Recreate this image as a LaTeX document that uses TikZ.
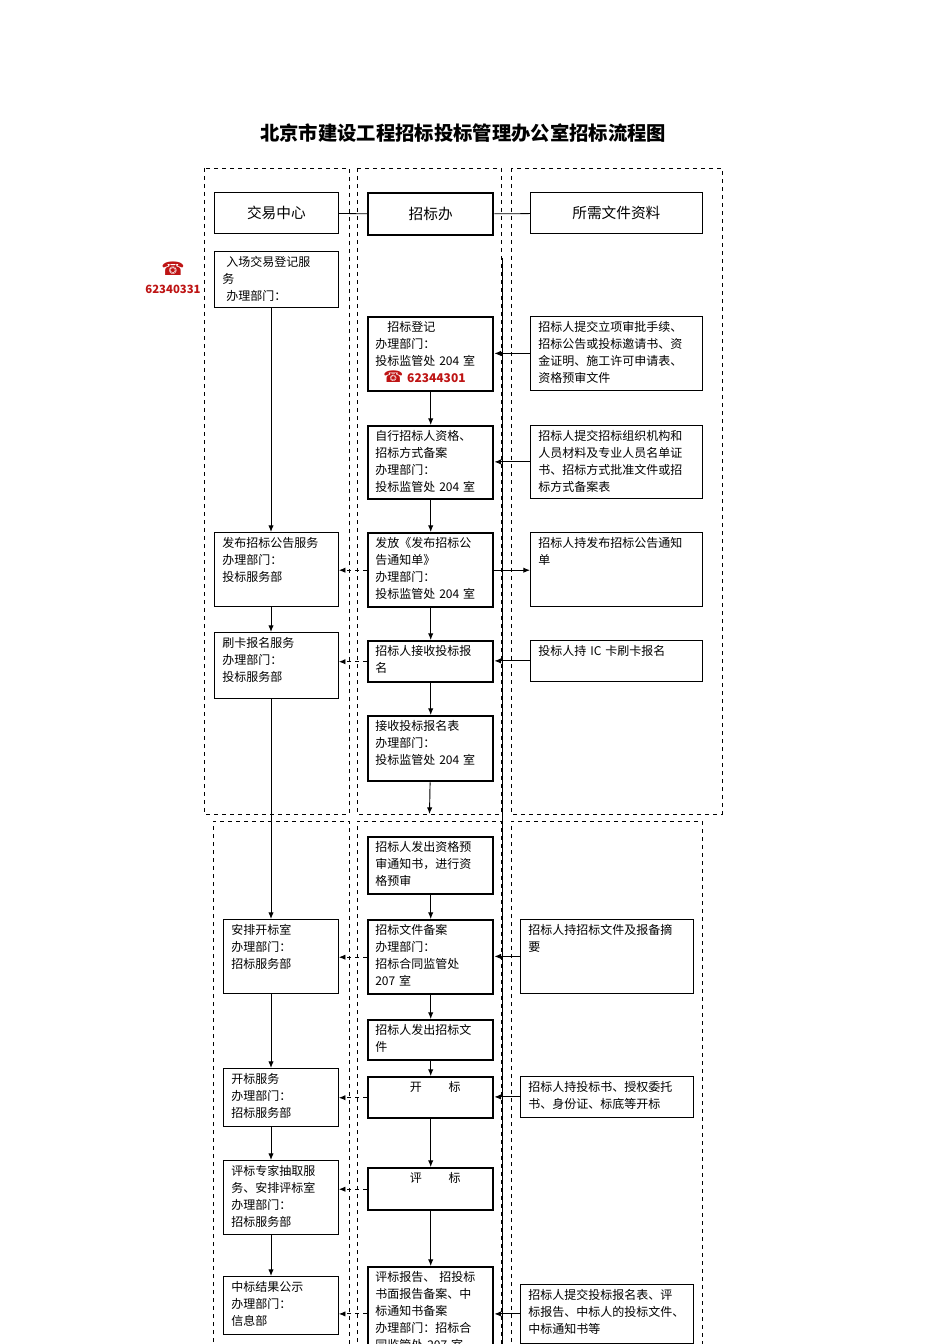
\documentclass[tikz,border=0pt]{standalone}
\usepackage{fontspec}
\setmainfont{Noto Sans CJK SC}
\newfontfamily\symf{DejaVu Sans}
\usetikzlibrary{arrows.meta}
\definecolor{telred}{RGB}{190,20,20}
\tikzset{
 x=0.75pt,y=-0.75pt,
 box/.style={draw,line width=0.6pt,inner sep=0pt},
 tbox/.style={draw,line width=1.8pt,inner sep=0pt},
 txt/.style={inner sep=0pt,align=left,font=\fontsize{9}{12.75}\selectfont},
 lane/.style={draw,dashed,line width=0.6pt},
 arr/.style={-{Latex[length=5pt,width=4pt]},line width=0.7pt},
 darr/.style={-{Latex[length=5pt,width=4pt]},line width=0.7pt,dashed},
}
\newcommand\bx[7]{%
 \node[#6,anchor=north west,minimum width={(#4-#2)*0.75pt},minimum height={(#5-#3)*0.75pt}] (#1) at (#2,#3) {};
 \node[txt,anchor=north west,text width={(#4-#2-12)*0.75pt}] (#1t) at (#2+8,#3+5) {#7};}
\begin{document}
\begin{tikzpicture}
\useasboundingbox[fill=white] (0,0) rectangle (950,1344);
\begin{scope}
\clip (0,0) rectangle (950,1344);
% lanes
\draw[lane] (204,168) rectangle (349,814);
\draw[lane] (357,168) rectangle (501,814);
\draw[lane] (511,168) rectangle (722,814);
\draw[lane] (213,1350) -- (213,821) -- (349,821) -- (349,1350);
\draw[lane] (357,1350) -- (357,821) -- (501,821) -- (501,1350);
\draw[lane] (511,1350) -- (511,821) -- (702,821) -- (702,1350);
\draw[line width=0.6pt] (502,258) -- (502,1350);
% title
\node[font=\fontsize{14.5}{16}\selectfont\bfseries] (title) at (463,133) {北京市建设工程招标投标管理办公室招标流程图};
% headers
\node[box,anchor=north west,minimum width=93pt,minimum height=31pt,font=\fontsize{11}{13}\selectfont] (h1) at (214,192) {交易中心};
\node[tbox,anchor=north west,minimum width=93.75pt,minimum height=31.5pt,font=\fontsize{11}{13}\selectfont] (h2) at (367,192) {招标办};
\node[box,anchor=north west,minimum width=129pt,minimum height=31pt,font=\fontsize{11}{13}\selectfont] (h3) at (530,192) {所需文件资料};
\draw[line width=0.6pt] (h1) -- (h2) (h2) -- (h3);
% phone
\node[font=\symf\fontsize{14}{14}\selectfont,text=telred] (ph1) at (173,269) {☎};
\node[font=\fontsize{8.5}{10}\selectfont\bfseries,text=telred] (ph1n) at (173,289) {62340331};
% boxes
\bx{a1}{214}{251}{338}{307}{box}{\ 入场交易登记服\\务\\\ 办理部门：}
\bx{m1}{367}{316}{492}{390}{tbox}{\quad 招标登记\\办理部门：\\投标监管处 204 室\\\hspace*{6pt}{\color{telred}\symf\large ☎}\ {\color{telred}\bfseries 62344301}}
\bx{r1}{530}{316}{702}{390}{box}{招标人提交立项审批手续、\\招标公告或投标邀请书、资\\金证明、施工许可申请表、\\资格预审文件}
\bx{m2}{367}{425}{492}{498}{tbox}{自行招标人资格、\\招标方式备案\\办理部门：\\投标监管处 204 室}
\bx{r2}{530}{425}{702}{498}{box}{招标人提交招标组织机构和\\人员材料及专业人员名单证\\书、招标方式批准文件或招\\标方式备案表}
\bx{a2}{214}{532}{338}{606}{box}{发布招标公告服务\\办理部门：\\投标服务部}
\bx{m3}{367}{532}{492}{606}{tbox}{发放《发布招标公\\告通知单》\\办理部门：\\投标监管处 204 室}
\bx{r3}{530}{532}{702}{606}{box}{招标人持发布招标公告通知\\单}
\bx{a3}{214}{632}{338}{698}{box}{刷卡报名服务\\办理部门：\\投标服务部}
\bx{m4}{367}{640}{492}{681}{tbox}{招标人接收投标报\\名}
\bx{r4}{530}{640}{702}{681}{box}{投标人持 IC 卡刷卡报名}
\bx{m5}{367}{715}{492}{780}{tbox}{接收投标报名表\\办理部门：\\投标监管处 204 室}
\bx{m6}{367}{836}{492}{893}{tbox}{招标人发出资格预\\审通知书，进行资\\格预审}
\bx{a4}{223}{919}{338}{993}{box}{安排开标室\\办理部门：\\招标服务部}
\bx{m7}{367}{919}{492}{993}{tbox}{招标文件备案\\办理部门：\\招标合同监管处\\207 室}
\bx{r5}{520}{919}{693}{993}{box}{招标人持招标文件及报备摘\\要}
\bx{m8}{367}{1019}{492}{1059}{tbox}{招标人发出招标文\\件}
\bx{a5}{223}{1068}{338}{1126}{box}{开标服务\\办理部门：\\招标服务部}
\bx{m9}{367}{1076}{492}{1117}{tbox}{\hspace*{26pt}开\hspace*{20pt}标}
\bx{r6}{520}{1076}{693}{1117}{box}{招标人持投标书、授权委托\\书、身份证、标底等开标}
\bx{a6}{223}{1160}{338}{1234}{box}{评标专家抽取服\\务、安排评标室\\办理部门：\\招标服务部}
\bx{m10}{367}{1167}{492}{1209}{tbox}{\hspace*{26pt}评\hspace*{20pt}标}
\bx{a7}{223}{1276}{338}{1334}{box}{中标结果公示\\办理部门：\\信息部}
\bx{m11}{367}{1266}{492}{1380}{tbox}{评标报告、 招投标\\书面报告备案、中\\标通知书备案\\办理部门：招标合\\同监管处 207 室}
\bx{r7}{520}{1284}{693}{1343}{box}{招标人提交投标报名表、评\\标报告、中标人的投标文件、\\中标通知书等}
% left vertical flow
\draw[arr] (a1.south -| 271,0) -- (a2.north -| 271,0);
\draw[arr] (a2.south -| 271,0) -- (a3.north -| 271,0);
\draw[arr] (a3.south -| 271,0) -- (a4.north -| 271,0);
\draw[arr] (a4.south -| 271,0) -- (a5.north -| 271,0);
\draw[arr] (a5.south -| 271,0) -- (a6.north -| 271,0);
\draw[arr] (a6.south -| 271,0) -- (a7.north -| 271,0);
% middle flow
\draw[arr] (m1) -- (m2);
\draw[arr] (m2) -- (m3);
\draw[arr] (m3) -- (m4);
\draw[arr] (m4) -- (m5);
\coordinate (mend) at (429.5,814);
\draw[arr] (m5) -- (mend);
\draw[arr] (m6) -- (m7);
\draw[arr] (m7) -- (m8);
\draw[arr] (m8) -- (m9);
\draw[arr] (m9) -- (m10);
\draw[arr] (m10) -- (m11);
% right to middle
\draw[arr] (r1) -- (r1 -| m1.east);
\draw[arr] (r2) -- (r2 -| m2.east);
\draw[arr] (m3) -- (m3 -| r3.west);
\draw[arr] (r4) -- (r4 -| m4.east);
\draw[arr] (r5) -- (r5 -| m7.east);
\draw[arr] (r6) -- (r6 -| m9.east);
\draw[arr] (r7) -- (r7 -| m11.east);
% middle to left dashed
\draw[darr] (m3) -- (m3 -| a2.east);
\draw[darr] (m4) -- (m4 -| a3.east);
\draw[darr] (m7) -- (m7 -| a4.east);
\draw[darr] (m9) -- (m9 -| a5.east);
\draw[darr] (m10) -- (m10 -| a6.east);
\draw[darr] (r7 -| m11.west) -- (r7 -| a7.east);
\end{scope}
\end{tikzpicture}
\end{document}
